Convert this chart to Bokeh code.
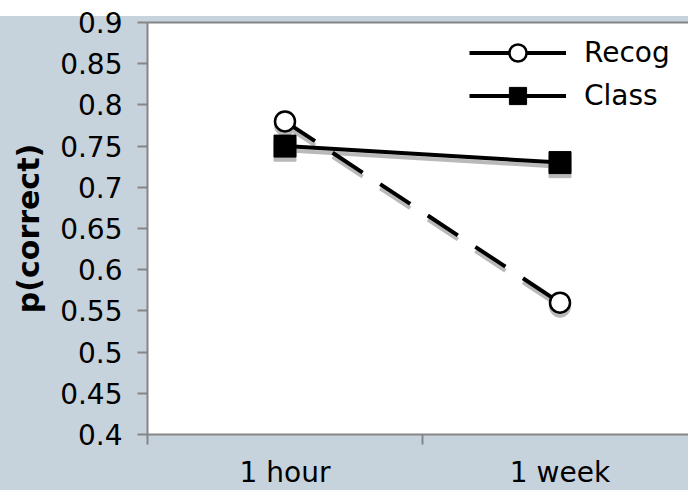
from bokeh.plotting import figure
from bokeh.models import (Range1d, FixedTicker, LinearAxis, Legend, LegendItem,
                          ColumnDataSource, CustomJSTickFormatter)
from bokeh.transform import dodge
from bokeh.embed import file_html
from bokeh.resources import INLINE

# ---- data ----
categories = ["1 hour", "1 week"]
recog = [0.78, 0.56]
class_vals = [0.75, 0.73]
y_ticks = [0.4, 0.45, 0.5, 0.55, 0.6, 0.65, 0.7, 0.75, 0.8, 0.85, 0.9]

x_centers = [i + 0.5 for i in range(len(categories))]
boundaries = [float(i) for i in range(len(categories) + 1)]
src = ColumnDataSource(dict(x=x_centers, recog=recog, cls=class_vals))

AX = "#858585"
SHADOW = "#b9b9b9"
BG = "#c6d2dc"

p = figure(width=688, height=490, output_backend="svg", toolbar_location=None,
           x_range=Range1d(0, 541 / 275), y_range=Range1d(0.4, 0.9),
           min_border_left=147, min_border_right=0, min_border_top=22,
           min_border_bottom=56)
p.styles = {"background": f"linear-gradient(to bottom, #ffffff 0px, #ffffff 16px, {BG} 16px, {BG} 100%)"}
p.border_fill_color = None
p.background_fill_color = "white"
p.outline_line_color = None
p.grid.visible = False

# shadows (offset a few pixels downward)
sh = dodge("recog", -0.005, range=p.y_range)
shc = dodge("cls", -0.005, range=p.y_range)
p.line("x", shc, source=src, line_color=SHADOW, line_width=4)
p.line("x", sh, source=src, line_color=SHADOW, line_width=4, line_dash="36 21")
p.scatter("x", shc, source=src, marker="square", size=22, fill_color=SHADOW, line_color=SHADOW)
p.scatter("x", sh, source=src, marker="circle", size=21, fill_color=SHADOW, line_color=SHADOW)

# series
p.line("x", "cls", source=src, line_color="black", line_width=4)
p.line("x", "recog", source=src, line_color="black", line_width=4, line_dash="36 21")
p.scatter("x", "cls", source=src, marker="square", size=22, fill_color="black", line_color="black")
p.scatter("x", "recog", source=src, marker="circle", size=20, fill_color="white",
          line_color="black", line_width=2.5)

# legend proxies
nan_src = ColumnDataSource(dict(x=[float("nan")], y=[float("nan")]))
l1 = p.line("x", "y", source=nan_src, line_color="black", line_width=4)
m1 = p.scatter("x", "y", source=nan_src, marker="circle", fill_color="white",
               line_color="black", line_width=2.5)
l2 = p.line("x", "y", source=nan_src, line_color="black", line_width=4)
m2 = p.scatter("x", "y", source=nan_src, marker="square", fill_color="black", line_color="black")
legend = Legend(items=[LegendItem(label="Recog", renderers=[l1, m1]),
                       LegendItem(label="Class", renderers=[l2, m2])],
                location=(322, 317), glyph_width=97, glyph_height=43, label_standoff=18,
                spacing=0, padding=0, margin=0, border_line_color=None,
                background_fill_alpha=0, label_text_font="DejaVu Sans",
                label_text_font_size="28px", label_text_color="black")
p.add_layout(legend)

# y axis
ya = p.yaxis[0]
ya.ticker = FixedTicker(ticks=y_ticks)
ya.formatter = CustomJSTickFormatter(code="return String(Number(tick.toFixed(2)));")
ya.axis_label = "p(correct)"
ya.axis_label_text_font = "DejaVu Sans"
ya.axis_label_text_font_style = "bold"
ya.axis_label_text_font_size = "30px"
ya.axis_label_text_color = "black"
ya.axis_label_standoff = 11
ya.major_label_text_font = "DejaVu Sans"
ya.major_label_text_font_size = "28px"
ya.major_label_text_color = "black"
ya.major_label_standoff = 15
ya.major_tick_out = 10
ya.major_tick_in = 0
ya.major_tick_line_color = AX
ya.major_tick_line_width = 2
ya.minor_tick_line_color = None
ya.axis_line_color = AX
ya.axis_line_width = 2

# x axis
xa = p.xaxis[0]
xa.ticker = FixedTicker(ticks=x_centers, minor_ticks=boundaries)
xa.formatter = CustomJSTickFormatter(args=dict(cats=categories),
                                     code="return cats[Math.floor(tick)] || '';")
xa.major_label_text_font = "DejaVu Sans"
xa.major_label_text_font_size = "28px"
xa.major_label_text_color = "black"
xa.major_label_standoff = 11
xa.major_tick_out = 0
xa.major_tick_in = 0
xa.major_tick_line_color = None
xa.minor_tick_out = 10
xa.minor_tick_in = 0
xa.minor_tick_line_color = AX
xa.minor_tick_line_width = 2
xa.axis_line_color = AX
xa.axis_line_width = 2
# tiny invisible axis label with negative standoff so the labels may sit low
xa.axis_label = " "
xa.axis_label_text_font_size = "1px"
xa.axis_label_standoff = -12

# top border line of plot area
top = LinearAxis(ticker=FixedTicker(ticks=[]), axis_line_color=AX, axis_line_width=2,
                 major_tick_line_color=None, minor_tick_line_color=None,
                 major_label_standoff=0, major_tick_out=0, major_tick_in=0)
p.add_layout(top, "above")

open("out.html", "w").write(file_html(p, INLINE))
